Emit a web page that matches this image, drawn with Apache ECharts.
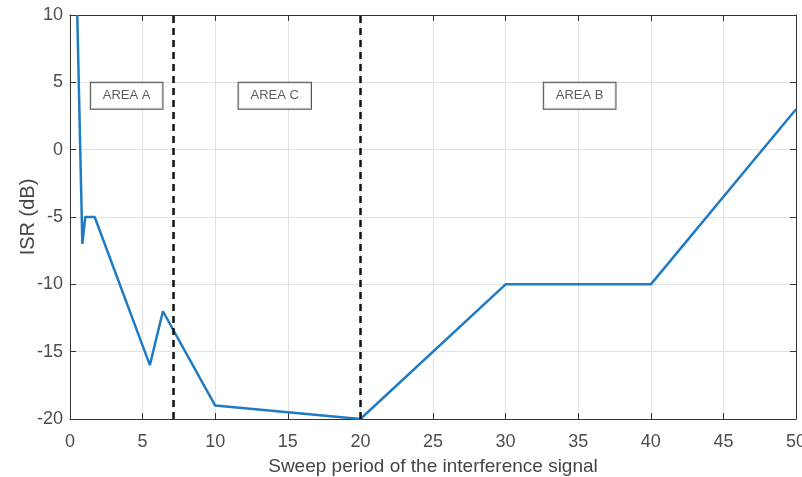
<!DOCTYPE html>
<html>
<head>
<meta charset="utf-8">
<script src="https://cdn.jsdelivr.net/npm/echarts@6/dist/echarts.min.js"></script>
<style>
  html, body { margin: 0; padding: 0; background: #fff; }
  #chart { width: 802px; height: 477px; }
</style>
</head>
<body>
<div id="chart"></div>
<script>
// ISR versus sweep period
const sweepPeriod = [0.5, 0.85, 1.05, 1.7, 5.5, 6.4, 10, 20, 30, 40, 50];
const isrDb = [10, -7, -5, -5, -16, -12, -19, -20, -10, -10, 3];

// region boundaries (dashed verticals)
const dividerPositions = [7.1, 20];

// region labels
const areaNames = ['AREA A', 'AREA C', 'AREA B'];
const areaX = [3.9, 14.1, 35.1];
const areaY = [4, 4, 4];

const xTicks = { min: 0, max: 50, interval: 5 };
const yTicks = { min: -20, max: 10, interval: 5 };

const font = 'Liberation Sans, Arial, sans-serif';
const axisGray = '#4d4d4d';

const chart = echarts.init(document.getElementById('chart'), null, { renderer: 'canvas' });

const lineData = sweepPeriod.map((x, i) => [x, isrDb[i]]);
const areaData = areaNames.map((n, i) => ({ value: [areaX[i], areaY[i]], name: n }));

const boxLine = { show: true, onZero: false, lineStyle: { color: '#333', width: 1 } };
const innerTick = { show: true, inside: true, length: 6, lineStyle: { color: '#333' } };

chart.setOption({
  animation: false,
  backgroundColor: '#fff',
  grid: { left: 70, top: 15, right: 6, bottom: 58, containLabel: false, outerBoundsMode: 'none' },
  xAxis: [
    {
      type: 'value', min: xTicks.min, max: xTicks.max, interval: xTicks.interval,
      name: 'Sweep period of the interference signal',
      nameLocation: 'middle', nameGap: 38, nameMoveOverlap: false,
      nameTextStyle: { fontFamily: font, fontSize: 19, color: '#444' },
      axisLine: boxLine,
      axisTick: innerTick,
      axisLabel: { fontFamily: font, fontSize: 18, color: axisGray, margin: 14 },
      splitLine: { show: true, lineStyle: { color: '#e3e3e3', width: 1 } }
    },
    {
      type: 'value', position: 'top', min: xTicks.min, max: xTicks.max, interval: xTicks.interval,
      axisLine: boxLine,
      axisTick: innerTick,
      axisLabel: { show: false },
      splitLine: { show: false }
    }
  ],
  yAxis: [
    {
      type: 'value', min: yTicks.min, max: yTicks.max, interval: yTicks.interval,
      name: 'ISR (dB)', nameLocation: 'middle', nameGap: 32, nameRotate: 90, nameMoveOverlap: false,
      nameTextStyle: { fontFamily: font, fontSize: 20, color: '#444' },
      axisLine: boxLine,
      axisTick: innerTick,
      axisLabel: { fontFamily: font, fontSize: 18, color: axisGray, margin: 7 },
      splitLine: { show: true, lineStyle: { color: '#e3e3e3', width: 1 } }
    },
    {
      type: 'value', position: 'right', min: yTicks.min, max: yTicks.max, interval: yTicks.interval,
      axisLine: boxLine,
      axisTick: innerTick,
      axisLabel: { show: false },
      splitLine: { show: false }
    }
  ],
  series: [
    {
      type: 'line',
      data: lineData,
      showSymbol: false,
      clip: true,
      lineStyle: { color: '#1f7bc4', width: 2.5 },
      z: 3,
      markLine: {
        silent: true,
        symbol: 'none',
        label: { show: false },
        lineStyle: { color: '#111', type: [7, 5], width: 2.5 },
        data: dividerPositions.map(v => ({ xAxis: v }))
      }
    },
    {
      type: 'scatter',
      data: areaData,
      symbolSize: 0,
      silent: true,
      z: 5,
      label: {
        show: true,
        position: 'inside',
        formatter: p => p.name,
        fontFamily: font,
        fontSize: 13,
        color: '#333',
        backgroundColor: '#fff',
        borderColor: '#222',
        borderWidth: 1,
        padding: [7, 12, 6, 12]
      }
    }
  ]
});
</script>
</body>
</html>
